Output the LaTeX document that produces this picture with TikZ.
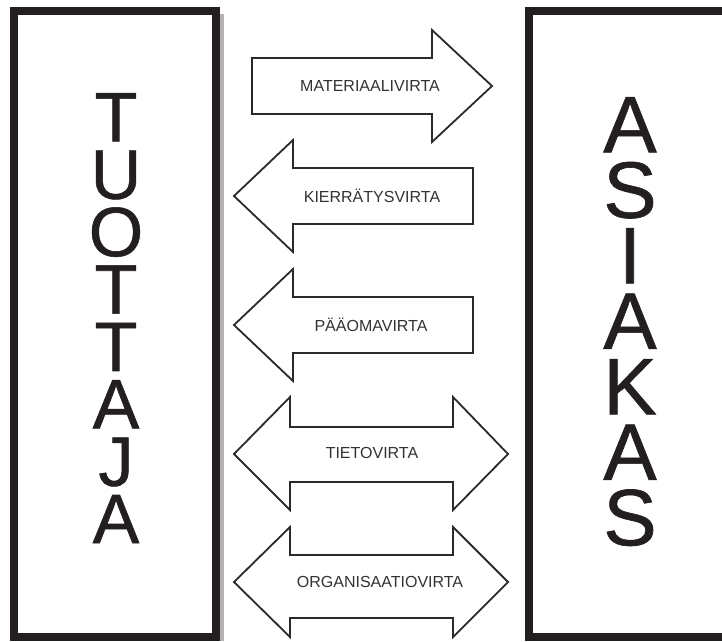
\documentclass[tikz,border=0pt]{standalone}
\usepackage{fontspec}
\setmainfont{Liberation Sans}
\newfontfamily\heavyletters[FakeBold=0.8]{Liberation Sans}
\begin{document}
\begin{tikzpicture}[x=1pt,y=-1pt,
  boxline/.style={draw=boxcol,line width=8pt},
  flow/.style={draw=arrcol,line width=1.8pt,fill=white,line join=miter},
  flowlabel/.style={font=\fontsize{16}{18}\selectfont,text=txtcol,inner sep=0pt},
  bigword/.style={align=center,inner sep=0pt,anchor=north,text=boxcol}]
\definecolor{boxcol}{HTML}{231F20}
\definecolor{arrcol}{HTML}{2A2A2A}
\definecolor{txtcol}{HTML}{333333}
\useasboundingbox (0,0) rectangle (722,641);
\fill[white] (0,0) rectangle (722,641);
% shadow of left box
\fill[black!30] (220,14) rectangle (223.5,641);
% boxes
\draw[boxline] (14,11) rectangle (216,637);
\draw[boxline] (529,11) rectangle (740,637);
\node[bigword,font=\heavyletters\fontsize{70}{57.4}\selectfont] (tuottaja) at (116,93)
  {T\\U\\O\\T\\T\\A\\J\\A};
\node[bigword,font=\heavyletters\fontsize{80}{65.5}\selectfont] (asiakas) at (630,97)
  {A\\S\\I\\A\\K\\A\\S};
% arrow 1: right
\draw[flow] (252,58) -- (432,58) -- (432,30) -- (492,86) -- (432,142) -- (432,114) -- (252,114) -- cycle;
\node[flowlabel] (mat) at (370,86) {MATERIAALIVIRTA};
% arrow 2: left
\draw[flow] (473,168) -- (293,168) -- (293,140) -- (234,196) -- (293,252) -- (293,224) -- (473,224) -- cycle;
\node[flowlabel] (kier) at (372,196) {KIERRÄTYSVIRTA};
% arrow 3: left
\draw[flow] (473,297) -- (293,297) -- (293,269) -- (234,325) -- (293,381) -- (293,353) -- (473,353) -- cycle;
\node[flowlabel] (paa) at (371,325) {PÄÄOMAVIRTA};
% arrow 4: double
\draw[flow] (290,427) -- (453,427) -- (453,397) -- (508,454) -- (453,510) -- (453,482) -- (290,482) -- (290,510) -- (234,454) -- (290,397) -- cycle;
\node[flowlabel] (tieto) at (372,453) {TIETOVIRTA};
% arrow 5: double
\draw[flow] (290,555) -- (453,555) -- (453,527) -- (508,582) -- (453,637) -- (453,618) -- (290,618) -- (290,637) -- (234,582) -- (290,527) -- cycle;
\node[flowlabel] (org) at (380,582) {ORGANISAATIOVIRTA};
\end{tikzpicture}
\end{document}
